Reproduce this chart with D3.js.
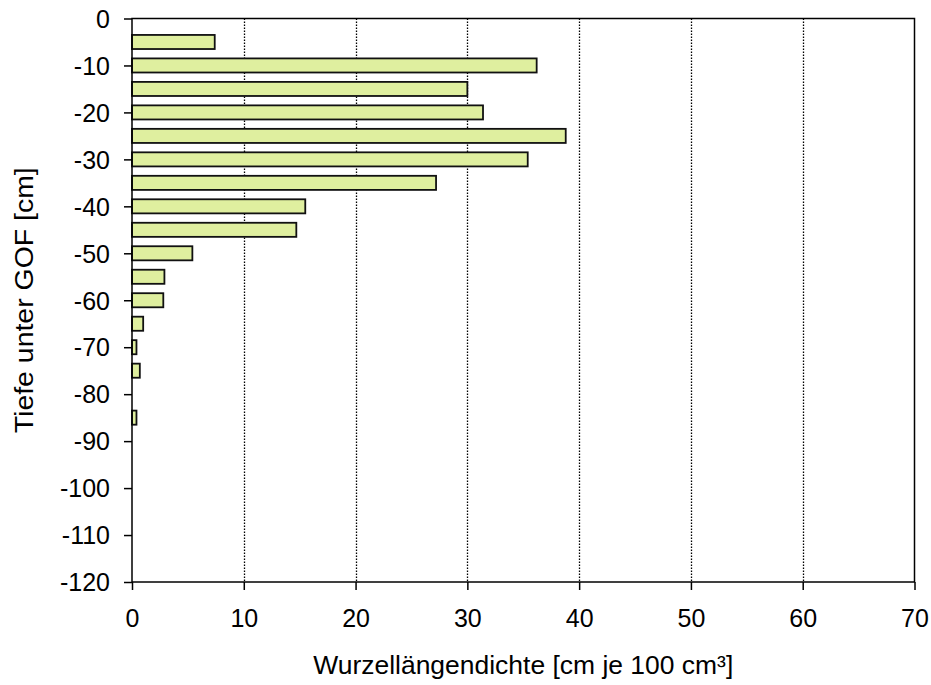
<!DOCTYPE html>
<html><head><meta charset="utf-8">
<script src="https://cdn.jsdelivr.net/npm/d3@7"></script>
<style>body{margin:0;background:#fff}svg{display:block}text{font-family:"Liberation Sans",Arial,sans-serif;fill:#000}</style>
</head><body>
<script>
const depths = [-5,-10,-15,-20,-25,-30,-35,-40,-45,-50,-55,-60,-65,-70,-75,-80,-85];
const values = [7.4,36.2,30.0,31.4,38.8,35.4,27.2,15.5,14.7,5.4,2.9,2.8,1.0,0.4,0.7,0,0.4];
const xTicks = [0,10,20,30,40,50,60,70];
const yTicks = [0,-10,-20,-30,-40,-50,-60,-70,-80,-90,-100,-110,-120];
const xLabel = "Wurzellängendichte [cm je 100 cm³]";
const yLabel = "Tiefe unter GOF [cm]";

const W=931,H=685;
const m={l:132,t:18.5,r:914.5,b:582};
const FS=25;
const svg=d3.select("body").append("svg").attr("width",W).attr("height",H);
const x=d3.scaleLinear().domain([0,70]).range([m.l,m.r]);
const y=d3.scaleLinear().domain([0,-120]).range([m.t,m.b]);
const barH=y(-3)-y(0);

// grid
svg.append("g").selectAll("line").data(xTicks.filter(d=>d>0&&d<70)).join("line")
 .attr("x1",d=>Math.round(x(d))+0.5).attr("x2",d=>Math.round(x(d))+0.5).attr("y1",m.t).attr("y2",m.b)
 .attr("stroke","#000").attr("stroke-width",1.3).attr("stroke-dasharray","1.5,1.5");

// bars
svg.append("g").selectAll("rect").data(depths.map((d,i)=>({d,v:values[i]})).filter(o=>o.v>0)).join("rect")
 .attr("x",x(0)).attr("y",o=>y(o.d)-barH/2).attr("width",o=>x(o.v)-x(0)).attr("height",barH)
 .attr("fill","#DFEF9F").attr("stroke","#111").attr("stroke-width",1.8);

// frame
svg.append("rect").attr("x",m.l).attr("y",m.t).attr("width",m.r-m.l).attr("height",m.b-m.t)
 .attr("fill","none").attr("stroke","#000").attr("stroke-width",1.5);

// axes
const xa=svg.append("g").attr("transform",`translate(0,${m.b})`)
 .call(d3.axisBottom(x).tickValues(xTicks).tickSize(8).tickPadding(19).tickFormat(d3.format("d")));
const ya=svg.append("g").attr("transform",`translate(${m.l},0)`)
 .call(d3.axisLeft(y).tickValues(yTicks).tickSize(8).tickPadding(14).tickFormat(d=>d===0?"0":"-"+Math.abs(d)));
[xa,ya].forEach(a=>{a.select(".domain").remove();a.selectAll("line").attr("stroke","#000").attr("stroke-width",1.5);
 a.attr("font-size",FS).attr("font-family","Liberation Sans, Arial, sans-serif");
 a.selectAll("text").attr("font-size",FS).attr("fill","#000");});
xa.selectAll("text").attr("dy","0.71em");
ya.selectAll("text").attr("dy","0.35em");

const xl=svg.append("text").attr("x",(m.l+m.r)/2).attr("y",674).attr("text-anchor","middle").attr("font-size",FS).text(xLabel);
xl.attr("textLength",420).attr("lengthAdjust","spacingAndGlyphs");
const yl=svg.append("text").attr("transform",`translate(33,${(m.t+m.b)/2}) rotate(-90)`).attr("text-anchor","middle").attr("font-size",25).text(yLabel);
yl.attr("textLength",266).attr("lengthAdjust","spacingAndGlyphs");
</script>
</body></html>
